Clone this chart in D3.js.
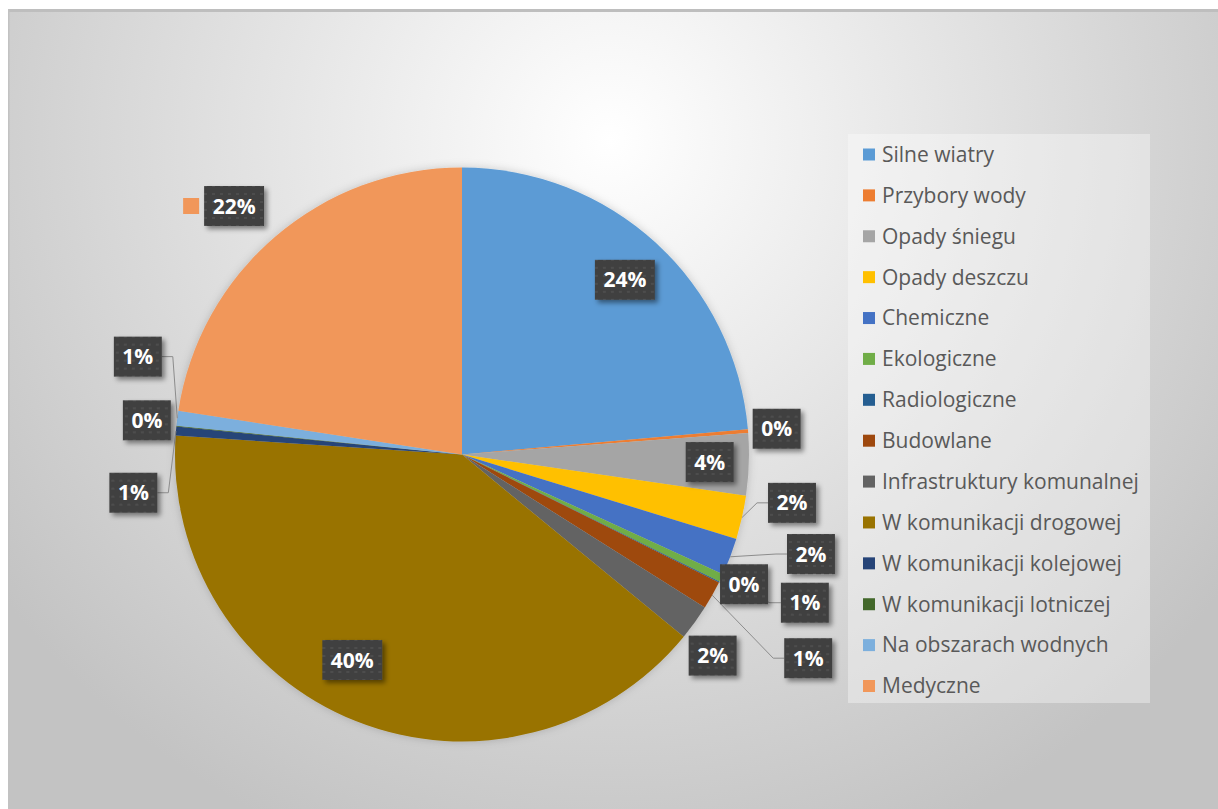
<!DOCTYPE html>
<html>
<head>
<meta charset="utf-8">
<script src="https://cdn.jsdelivr.net/npm/d3@7.9.0/dist/d3.min.js"></script>
<style>
  body { margin: 0; background: #fff; }
  svg { display: block; }
</style>
</head>
<body>
<svg id="chart" width="1218" height="809"></svg>
<script>
// data (percent of all events)
const categories = [
  'Silne wiatry', 'Przybory wody', 'Opady śniegu', 'Opady deszczu', 'Chemiczne',
  'Ekologiczne', 'Radiologiczne', 'Budowlane', 'Infrastruktury komunalnej',
  'W komunikacji drogowej', 'W komunikacji kolejowej', 'W komunikacji lotniczej',
  'Na obszarach wodnych', 'Medyczne'
];
const shares = [23.6, 0.2, 3.5, 2.45, 2.1, 0.45, 0.05, 1.6, 2.0, 40.1, 0.5, 0.05, 0.83, 22.57];
const shareLabels = ['24%', '0%', '4%', '2%', '2%', '0%', '1%', '1%', '2%', '40%', '1%', '0%', '1%', '22%'];
const colors = [
  '#5b9bd5', '#ed7d31', '#a5a5a5', '#ffc000', '#4472c4', '#70ad47', '#255e91',
  '#9e480e', '#636363', '#997300', '#264478', '#43682b', '#7cafdd', '#f1975a'
];

// label placement: radius factor, nudge, leader side
const labelPlacement = [
  { k: 0.83, dx: 2, dy: 1 },
  { k: 1.10, dx: 0, dy: 0 },
  { k: 0.86, dx: 1, dy: -1 },
  { k: 1.10, dx: 22, dy: -21, leader: 'left' },
  { k: 1.10, dx: 54, dy: -13, leader: 'left' },
  { k: 1.10, dx: -3, dy: -6 },
  { k: 1.10, dx: 60, dy: 8, leader: 'left' },
  { k: 1.10, dx: 71, dy: 49, leader: 'left' },
  { k: 1.12, dx: -10, dy: 13 },
  { k: 0.83, dx: -22, dy: -16 },
  { k: 1.10, dx: -14, dy: 64, leader: 'right' },
  { k: 1.10, dx: -1, dy: -3 },
  { k: 1.10, dx: -11, dy: -58, leader: 'right' },
  { k: 1.15, dx: -13, dy: 2, key: true }
];

const data = categories.map((c, i) => ({ name: c, value: shares[i], label: shareLabels[i], color: colors[i] }));

const svg = d3.select('#chart');
const defs = svg.append('defs');

const bg = defs.append('radialGradient').attr('id', 'bg')
  .attr('gradientUnits', 'userSpaceOnUse').attr('cx', 610).attr('cy', 140).attr('r', 760);
bg.append('stop').attr('offset', 0).attr('stop-color', '#ffffff');
bg.append('stop').attr('offset', 1).attr('stop-color', '#c3c3c3');

const pat = defs.append('pattern').attr('id', 'dots')
  .attr('width', 8).attr('height', 8).attr('patternUnits', 'userSpaceOnUse');
pat.append('rect').attr('width', 8).attr('height', 8).attr('fill', '#404040');
pat.append('rect').attr('x', 2).attr('y', 3).attr('width', 3).attr('height', 2).attr('fill', '#4e4e4e');

const sh = defs.append('filter').attr('id', 'shadow')
  .attr('x', '-30%').attr('y', '-30%').attr('width', '170%').attr('height', '170%');
sh.append('feDropShadow').attr('dx', 3).attr('dy', 3).attr('stdDeviation', 2.5)
  .attr('flood-color', '#000').attr('flood-opacity', 0.45);

const pieShadow = defs.append('filter').attr('id', 'pieShadow')
  .attr('x', '-10%').attr('y', '-10%').attr('width', '120%').attr('height', '120%');
pieShadow.append('feDropShadow').attr('dx', 0).attr('dy', 0).attr('stdDeviation', 4)
  .attr('flood-color', '#000').attr('flood-opacity', 0.18);

// chart area
svg.append('rect').attr('x', 8).attr('y', 9).attr('width', 1218).attr('height', 809).attr('fill', 'url(#bg)');
svg.append('rect').attr('x', 8).attr('y', 9).attr('width', 1210).attr('height', 3).attr('fill', '#bebebe');
svg.append('rect').attr('x', 8).attr('y', 9).attr('width', 1.5).attr('height', 800).attr('fill', '#c2c2c2');

// pie
const cx = 462, cy = 454.5, R = 287;
const pie = d3.pie().sort(null).value(d => d.value);
const arcs = pie(data);
const arcGen = d3.arc().innerRadius(0).outerRadius(R);

const g = svg.append('g').attr('transform', `translate(${cx},${cy})`);
g.append('g').attr('filter', 'url(#pieShadow)')
  .selectAll('path').data(arcs).join('path')
  .attr('d', arcGen)
  .attr('fill', d => d.data.color);

// data labels
const leaders = g.append('g');
const boxes = g.append('g').attr('font-family', '"Open Sans", sans-serif')
  .attr('font-weight', 'bold').attr('font-size', 21);

arcs.forEach((d, i) => {
  const p = labelPlacement[i];
  const mid = (d.startAngle + d.endAngle) / 2;
  const x = Math.sin(mid) * R * p.k + p.dx;
  const y = -Math.cos(mid) * R * p.k + p.dy;

  const lg = boxes.append('g').attr('transform', `translate(${x},${y})`);
  const txt = lg.append('text')
    .attr('text-anchor', 'middle').attr('dy', '0.36em')
    .attr('fill', '#fff').text(d.data.label);
  const w = txt.node().getComputedTextLength() + 17, h = 40;
  lg.insert('rect', 'text')
    .attr('x', -w / 2).attr('y', -h / 2).attr('width', w).attr('height', h)
    .attr('fill', 'url(#dots)').attr('filter', 'url(#shadow)');

  if (p.key) {
    lg.append('rect').attr('x', -w / 2 - 21).attr('y', -8).attr('width', 16).attr('height', 16)
      .attr('fill', d.data.color);
  }

  if (p.leader) {
    const ex = Math.sin(mid) * R, ey = -Math.cos(mid) * R;
    const sx = p.leader === 'left' ? x - w / 2 : x + w / 2;
    const bx = p.leader === 'left' ? sx - 11 : sx + 11;
    leaders.append('path')
      .attr('d', d3.line()([[sx, y], [bx, y], [ex, ey]]))
      .attr('fill', 'none').attr('stroke', '#8c8c8c').attr('stroke-width', 1);
  }
});

// legend
const legend = svg.append('g').attr('font-family', '"Open Sans", sans-serif').attr('font-size', 21);
legend.append('rect').attr('x', 848).attr('y', 134).attr('width', 302).attr('height', 569)
  .attr('fill', '#fff').attr('opacity', 0.35);
const ly = d3.scalePoint().domain(categories).range([154.5, 686]);
const items = legend.selectAll('g.item').data(data).join('g').attr('class', 'item')
  .attr('transform', d => `translate(863,${ly(d.name)})`);
items.append('rect').attr('x', 0).attr('y', -6).attr('width', 12).attr('height', 12).attr('fill', d => d.color);
items.append('text').attr('x', 19).attr('dy', '0.35em').attr('fill', '#595959').text(d => d.name);
</script>
</body>
</html>
